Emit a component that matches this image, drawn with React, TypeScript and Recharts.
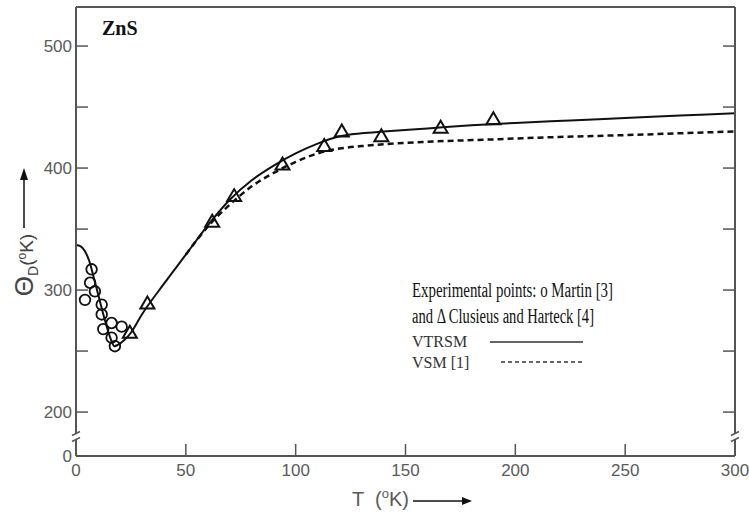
import React from 'react';
import { ComposedChart, Line, Scatter, XAxis, YAxis, ReferenceDot } from 'recharts';

// VTRSM (solid) curve
const vtrsmT = [0, 2, 4, 6, 8, 10, 12, 14, 16, 17.5, 19, 22, 25, 30, 40, 50, 60, 70, 80, 90, 100, 110, 120, 130, 140, 160, 180, 200, 225, 250, 275, 300];
const vtrsmTheta = [337, 336, 332, 324, 311, 297, 283, 270, 259, 254, 255, 259, 265, 280, 305, 329, 353, 374, 390, 402, 412, 420, 426, 428.5, 430, 432.5, 435, 437, 439, 441, 443, 445];

// VSM [1] (dashed) curve
const vsmT = [50, 60, 70, 80, 90, 100, 110, 120, 130, 140, 160, 190, 220, 250, 275, 300];
const vsmTheta = [329, 352, 370, 385, 396, 405, 412, 416, 418, 419.5, 421.5, 423.5, 425.5, 427, 428.5, 430];

// Martin [3] points (circles)
const martinT = [7.1, 6.4, 4.1, 8.6, 11.7, 11.7, 12.4, 16.2, 20.8, 16.2, 17.7];
const martinTheta = [317, 306, 292, 299, 288, 280, 268, 273, 270, 261, 254];

// Clusius and Harteck [4] points (triangles)
const clusiusT = [24.5, 32.5, 62, 72, 94, 113, 121, 139, 166, 190];
const clusiusTheta = [265, 289, 356, 377, 403, 418, 430, 426, 433, 440];

const xTicks = [0, 50, 100, 150, 200, 250, 300];
const Y_MIN = 164; // bottom of the broken axis, shown as "0"
const yTicks = [Y_MIN, 200, 250, 300, 350, 400, 450, 500];
const yLabels = [200, 300, 400, 500];

const vtrsm = vtrsmT.map((t, i) => ({ t, v: vtrsmTheta[i] }));
const vsm = vsmT.map((t, i) => ({ t, v: vsmTheta[i] }));
const martin = martinT.map((t, i) => ({ t, v: martinTheta[i] }));
const clusius = clusiusT.map((t, i) => ({ t, v: clusiusTheta[i] }));

const AXIS = '#555';
const TICK_TEXT = '#5a5a5a';
const SANS = '"Liberation Sans", Arial, sans-serif';
const SERIF = '"Liberation Serif", "Times New Roman", serif';

const axisLine = { stroke: AXIS, strokeWidth: 2 };
const tickLine = { stroke: AXIS, strokeWidth: 1.5 };
const tickText = { fill: TICK_TEXT, fontSize: 17, fontFamily: SANS };

const yFormat = (v: number) => (v === Y_MIN ? '0' : yLabels.includes(v) ? String(v) : '');
const xFormat = (v: number) => String(v);

function BreakMark({ cx, cy }) {
  return (
    <g>
      <rect x={cx - 3} y={cy - 3} width={6} height={6} fill="#fff" />
      <line x1={cx - 4} y1={cy - 1} x2={cx + 4} y2={cy - 5} stroke={AXIS} strokeWidth={1.5} />
      <line x1={cx - 4} y1={cy + 5} x2={cx + 4} y2={cy + 1} stroke={AXIS} strokeWidth={1.5} />
    </g>
  );
}

function Circle({ cx, cy }) {
  return <circle cx={cx} cy={cy} r={5.3} fill="none" stroke="#111" strokeWidth={1.8} />;
}

function Triangle({ cx, cy }) {
  const pts = `${cx - 7},${cy + 5} ${cx + 7},${cy + 5} ${cx},${cy - 7}`;
  return <polygon points={pts} fill="none" stroke="#111" strokeWidth={2} strokeLinejoin="miter" />;
}

export default function App() {
  return (
    <div style={{ position: 'absolute', left: 0, top: 0, width: 749, height: 519, background: '#fff' }}>
      <ComposedChart width={749} height={519} margin={{ top: 6, right: 13, bottom: 23, left: 16 }}>
        <XAxis
          dataKey="t"
          type="number"
          domain={[0, 300]}
          ticks={xTicks}
          allowDataOverflow
          height={40}
          tickSize={-12}
          tickMargin={20}
          tick={tickText}
          tickFormatter={xFormat}
          tickLine={tickLine}
          axisLine={axisLine}
        />
        <XAxis
          xAxisId="top"
          orientation="top"
          type="number"
          domain={[0, 300]}
          ticks={xTicks}
          height={1}
          tickSize={0}
          tickFormatter={() => ''}
          tickLine={false}
          axisLine={axisLine}
        />
        <YAxis
          dataKey="v"
          type="number"
          domain={[Y_MIN, 532]}
          ticks={yTicks}
          allowDataOverflow
          interval={0}
          width={60}
          tickSize={-12}
          tickMargin={16}
          tick={tickText}
          tickFormatter={yFormat}
          tickLine={tickLine}
          axisLine={axisLine}
        />
        <YAxis
          yAxisId="r"
          orientation="right"
          type="number"
          domain={[Y_MIN, 532]}
          ticks={yTicks}
          allowDataOverflow
          interval={0}
          width={1}
          tickSize={-12}
          tickFormatter={() => ''}
          tickLine={tickLine}
          axisLine={axisLine}
        />
        <Line data={vtrsm} dataKey="v" type="monotone" stroke="#111" strokeWidth={2} dot={false} isAnimationActive={false} />
        <Line data={vsm} dataKey="v" type="monotone" stroke="#111" strokeWidth={2.5} strokeDasharray="6 4" dot={false} isAnimationActive={false} />
        <Scatter data={martin} dataKey="v" shape={Circle} isAnimationActive={false} />
        <Scatter data={clusius} dataKey="v" shape={Triangle} isAnimationActive={false} />
        <ReferenceDot x={0} y={180} ifOverflow="visible" shape={BreakMark} />
        <ReferenceDot x={300} y={180} ifOverflow="visible" shape={BreakMark} />
      </ComposedChart>
      <svg width={749} height={519} style={{ position: 'absolute', left: 0, top: 0, pointerEvents: 'none' }}>
        <text x={102} y={35} fontFamily={SERIF} fontWeight="bold" fontSize={20} fill="#111">ZnS</text>

        <text transform="rotate(-90 33 265)" x={33} y={265} textAnchor="middle" fontFamily={SANS} fill="#444" fontSize={19}>
          <tspan fontSize={26}>Θ</tspan>
          <tspan fontSize={14} dy={5}>D</tspan>
          <tspan dy={-5}>(</tspan>
          <tspan fontSize={12} dy={-7}>o</tspan>
          <tspan dy={7}>K)</tspan>
        </text>
        <line x1={24} y1={228} x2={24} y2={178} stroke="#111" strokeWidth={1.5} />
        <polygon points="20,180 28,180 24,168" fill="#111" />

        <text y={506} fontFamily={SANS} fill={TICK_TEXT} fontSize={20}>
          <tspan x={352}>T</tspan>
          <tspan x={375}>(</tspan>
          <tspan fontSize={13} dy={-8}>o</tspan>
          <tspan dy={8}>K)</tspan>
        </text>
        <line x1={413} y1={501} x2={463} y2={501} stroke="#111" strokeWidth={1.5} />
        <polygon points="462,497 462,505 472,501" fill="#111" />

        <text x={412} y={297} fontFamily={SERIF} fontSize={20} fill="#111" textLength={201} lengthAdjust="spacingAndGlyphs">
          Experimental points: o Martin [3]
        </text>
        <text x={412} y={323} fontFamily={SERIF} fontSize={20} fill="#111" textLength={182} lengthAdjust="spacingAndGlyphs">
          and Δ Clusieus and Harteck [4]
        </text>
        <text x={412} y={347} fontFamily={SERIF} fontSize={16} fill="#333">VTRSM</text>
        <line x1={490} y1={342} x2={583} y2={342} stroke="#333" strokeWidth={1.5} />
        <text x={412} y={368} fontFamily={SERIF} fontSize={16} fill="#333">VSM [1]</text>
        <line x1={501} y1={362} x2={582} y2={362} stroke="#333" strokeWidth={1.5} strokeDasharray="4 3" />
      </svg>
    </div>
  );
}
